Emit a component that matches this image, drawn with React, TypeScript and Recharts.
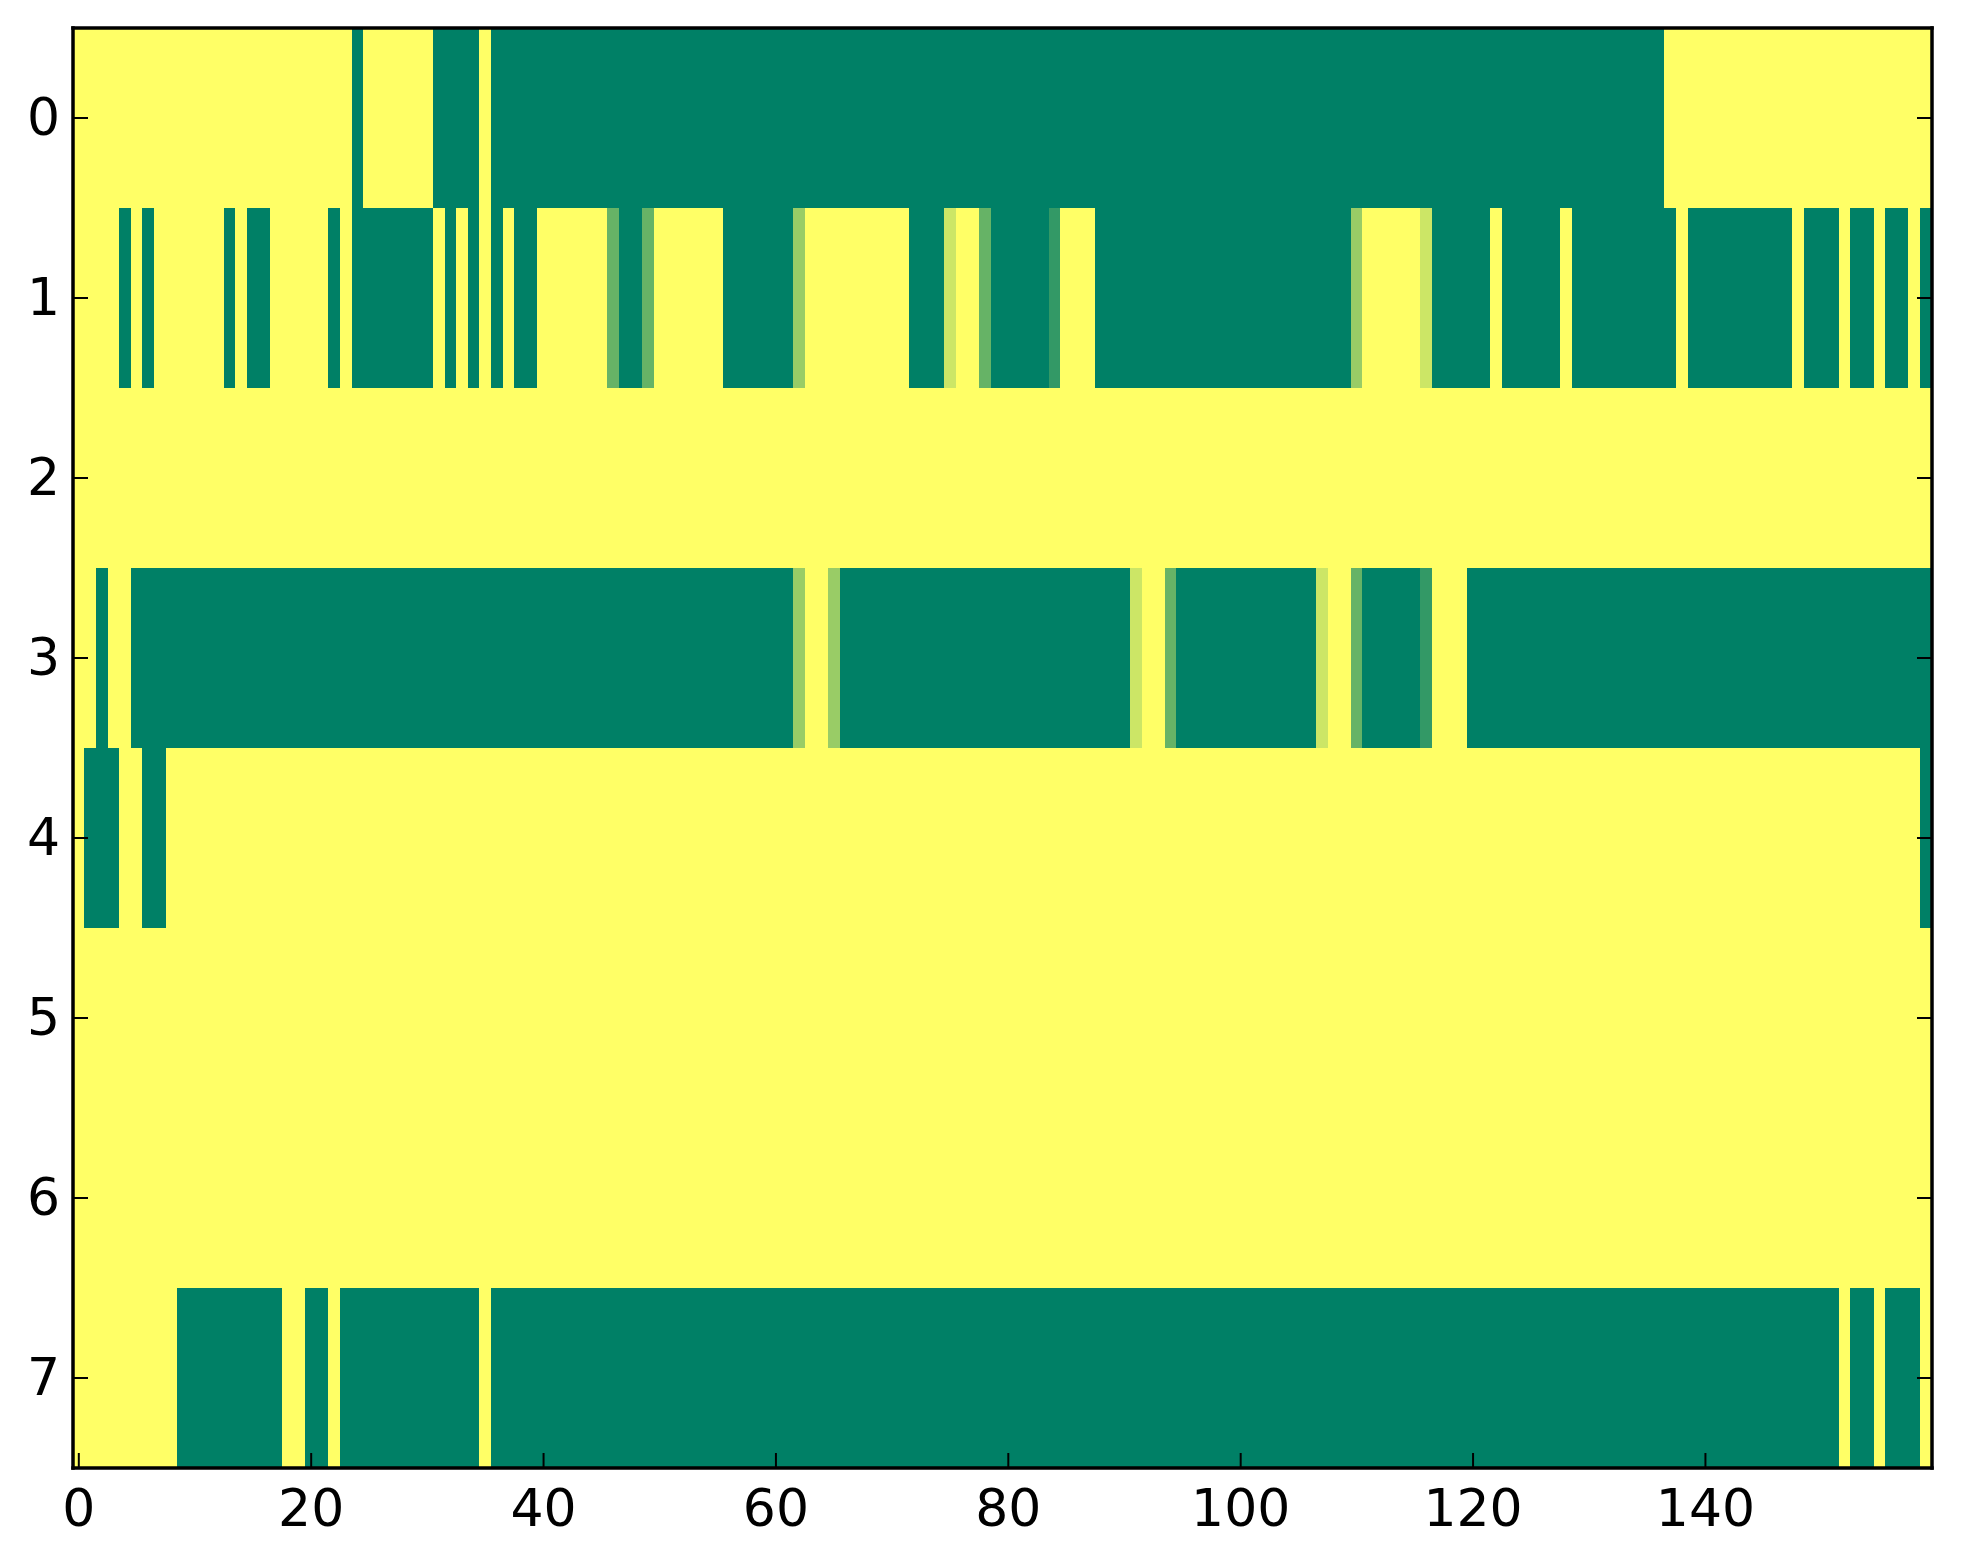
import React from 'react';
import { ScatterChart, Scatter, XAxis, YAxis } from 'recharts';

// ---- data (8 rows x 160 columns, values 0..1, summer colormap) ----
const ROW_TICKS = [0, 1, 2, 3, 4, 5, 6, 7];
const X_TICKS = [0, 20, 40, 60, 80, 100, 120, 140];

const row0 = [
  1, 1, 1, 1, 1, 1, 1, 1, 1, 1,
  1, 1, 1, 1, 1, 1, 1, 1, 1, 1,
  1, 1, 1, 1, 0, 1, 1, 1, 1, 1,
  1, 0, 0, 0, 0, 1, 0, 0, 0, 0,
  0, 0, 0, 0, 0, 0, 0, 0, 0, 0,
  0, 0, 0, 0, 0, 0, 0, 0, 0, 0,
  0, 0, 0, 0, 0, 0, 0, 0, 0, 0,
  0, 0, 0, 0, 0, 0, 0, 0, 0, 0,
  0, 0, 0, 0, 0, 0, 0, 0, 0, 0,
  0, 0, 0, 0, 0, 0, 0, 0, 0, 0,
  0, 0, 0, 0, 0, 0, 0, 0, 0, 0,
  0, 0, 0, 0, 0, 0, 0, 0, 0, 0,
  0, 0, 0, 0, 0, 0, 0, 0, 0, 0,
  0, 0, 0, 0, 0, 0, 0, 1, 1, 1,
  1, 1, 1, 1, 1, 1, 1, 1, 1, 1,
  1, 1, 1, 1, 1, 1, 1, 1, 1, 1,
];

const row1 = [
  1, 1, 1, 1, 0, 1, 0, 1, 1, 1,
  1, 1, 1, 0, 1, 0, 0, 1, 1, 1,
  1, 1, 0, 1, 0, 0, 0, 0, 0, 0,
  0, 1, 0, 1, 0, 1, 0, 1, 0, 0,
  1, 1, 1, 1, 1, 1, 0.4, 0, 0, 0.4,
  1, 1, 1, 1, 1, 1, 0, 0, 0, 0,
  0, 0, 0.6, 1, 1, 1, 1, 1, 1, 1,
  1, 1, 0, 0, 0, 0.8, 1, 1, 0.4, 0,
  0, 0, 0, 0, 0.2, 1, 1, 1, 0, 0,
  0, 0, 0, 0, 0, 0, 0, 0, 0, 0,
  0, 0, 0, 0, 0, 0, 0, 0, 0, 0,
  0.6, 1, 1, 1, 1, 1, 0.8, 0, 0, 0,
  0, 0, 1, 0, 0, 0, 0, 0, 1, 0,
  0, 0, 0, 0, 0, 0, 0, 0, 1, 0,
  0, 0, 0, 0, 0, 0, 0, 0, 1, 0,
  0, 0, 1, 0, 0, 1, 0, 0, 1, 0,
];

const row2 = [
  1, 1, 1, 1, 1, 1, 1, 1, 1, 1,
  1, 1, 1, 1, 1, 1, 1, 1, 1, 1,
  1, 1, 1, 1, 1, 1, 1, 1, 1, 1,
  1, 1, 1, 1, 1, 1, 1, 1, 1, 1,
  1, 1, 1, 1, 1, 1, 1, 1, 1, 1,
  1, 1, 1, 1, 1, 1, 1, 1, 1, 1,
  1, 1, 1, 1, 1, 1, 1, 1, 1, 1,
  1, 1, 1, 1, 1, 1, 1, 1, 1, 1,
  1, 1, 1, 1, 1, 1, 1, 1, 1, 1,
  1, 1, 1, 1, 1, 1, 1, 1, 1, 1,
  1, 1, 1, 1, 1, 1, 1, 1, 1, 1,
  1, 1, 1, 1, 1, 1, 1, 1, 1, 1,
  1, 1, 1, 1, 1, 1, 1, 1, 1, 1,
  1, 1, 1, 1, 1, 1, 1, 1, 1, 1,
  1, 1, 1, 1, 1, 1, 1, 1, 1, 1,
  1, 1, 1, 1, 1, 1, 1, 1, 1, 1,
];

const row3 = [
  1, 1, 0, 1, 1, 0, 0, 0, 0, 0,
  0, 0, 0, 0, 0, 0, 0, 0, 0, 0,
  0, 0, 0, 0, 0, 0, 0, 0, 0, 0,
  0, 0, 0, 0, 0, 0, 0, 0, 0, 0,
  0, 0, 0, 0, 0, 0, 0, 0, 0, 0,
  0, 0, 0, 0, 0, 0, 0, 0, 0, 0,
  0, 0, 0.6, 1, 1, 0.6, 0, 0, 0, 0,
  0, 0, 0, 0, 0, 0, 0, 0, 0, 0,
  0, 0, 0, 0, 0, 0, 0, 0, 0, 0,
  0, 0.8, 1, 1, 0.4, 0, 0, 0, 0, 0,
  0, 0, 0, 0, 0, 0, 0, 0.8, 1, 1,
  0.4, 0, 0, 0, 0, 0, 0.2, 1, 1, 1,
  0, 0, 0, 0, 0, 0, 0, 0, 0, 0,
  0, 0, 0, 0, 0, 0, 0, 0, 0, 0,
  0, 0, 0, 0, 0, 0, 0, 0, 0, 0,
  0, 0, 0, 0, 0, 0, 0, 0, 0, 0,
];

const row4 = [
  1, 0, 0, 0, 1, 1, 0, 0, 1, 1,
  1, 1, 1, 1, 1, 1, 1, 1, 1, 1,
  1, 1, 1, 1, 1, 1, 1, 1, 1, 1,
  1, 1, 1, 1, 1, 1, 1, 1, 1, 1,
  1, 1, 1, 1, 1, 1, 1, 1, 1, 1,
  1, 1, 1, 1, 1, 1, 1, 1, 1, 1,
  1, 1, 1, 1, 1, 1, 1, 1, 1, 1,
  1, 1, 1, 1, 1, 1, 1, 1, 1, 1,
  1, 1, 1, 1, 1, 1, 1, 1, 1, 1,
  1, 1, 1, 1, 1, 1, 1, 1, 1, 1,
  1, 1, 1, 1, 1, 1, 1, 1, 1, 1,
  1, 1, 1, 1, 1, 1, 1, 1, 1, 1,
  1, 1, 1, 1, 1, 1, 1, 1, 1, 1,
  1, 1, 1, 1, 1, 1, 1, 1, 1, 1,
  1, 1, 1, 1, 1, 1, 1, 1, 1, 1,
  1, 1, 1, 1, 1, 1, 1, 1, 1, 0,
];

const row5 = [
  1, 1, 1, 1, 1, 1, 1, 1, 1, 1,
  1, 1, 1, 1, 1, 1, 1, 1, 1, 1,
  1, 1, 1, 1, 1, 1, 1, 1, 1, 1,
  1, 1, 1, 1, 1, 1, 1, 1, 1, 1,
  1, 1, 1, 1, 1, 1, 1, 1, 1, 1,
  1, 1, 1, 1, 1, 1, 1, 1, 1, 1,
  1, 1, 1, 1, 1, 1, 1, 1, 1, 1,
  1, 1, 1, 1, 1, 1, 1, 1, 1, 1,
  1, 1, 1, 1, 1, 1, 1, 1, 1, 1,
  1, 1, 1, 1, 1, 1, 1, 1, 1, 1,
  1, 1, 1, 1, 1, 1, 1, 1, 1, 1,
  1, 1, 1, 1, 1, 1, 1, 1, 1, 1,
  1, 1, 1, 1, 1, 1, 1, 1, 1, 1,
  1, 1, 1, 1, 1, 1, 1, 1, 1, 1,
  1, 1, 1, 1, 1, 1, 1, 1, 1, 1,
  1, 1, 1, 1, 1, 1, 1, 1, 1, 1,
];

const row6 = [
  1, 1, 1, 1, 1, 1, 1, 1, 1, 1,
  1, 1, 1, 1, 1, 1, 1, 1, 1, 1,
  1, 1, 1, 1, 1, 1, 1, 1, 1, 1,
  1, 1, 1, 1, 1, 1, 1, 1, 1, 1,
  1, 1, 1, 1, 1, 1, 1, 1, 1, 1,
  1, 1, 1, 1, 1, 1, 1, 1, 1, 1,
  1, 1, 1, 1, 1, 1, 1, 1, 1, 1,
  1, 1, 1, 1, 1, 1, 1, 1, 1, 1,
  1, 1, 1, 1, 1, 1, 1, 1, 1, 1,
  1, 1, 1, 1, 1, 1, 1, 1, 1, 1,
  1, 1, 1, 1, 1, 1, 1, 1, 1, 1,
  1, 1, 1, 1, 1, 1, 1, 1, 1, 1,
  1, 1, 1, 1, 1, 1, 1, 1, 1, 1,
  1, 1, 1, 1, 1, 1, 1, 1, 1, 1,
  1, 1, 1, 1, 1, 1, 1, 1, 1, 1,
  1, 1, 1, 1, 1, 1, 1, 1, 1, 1,
];

const row7 = [
  1, 1, 1, 1, 1, 1, 1, 1, 1, 0,
  0, 0, 0, 0, 0, 0, 0, 0, 1, 1,
  0, 0, 1, 0, 0, 0, 0, 0, 0, 0,
  0, 0, 0, 0, 0, 1, 0, 0, 0, 0,
  0, 0, 0, 0, 0, 0, 0, 0, 0, 0,
  0, 0, 0, 0, 0, 0, 0, 0, 0, 0,
  0, 0, 0, 0, 0, 0, 0, 0, 0, 0,
  0, 0, 0, 0, 0, 0, 0, 0, 0, 0,
  0, 0, 0, 0, 0, 0, 0, 0, 0, 0,
  0, 0, 0, 0, 0, 0, 0, 0, 0, 0,
  0, 0, 0, 0, 0, 0, 0, 0, 0, 0,
  0, 0, 0, 0, 0, 0, 0, 0, 0, 0,
  0, 0, 0, 0, 0, 0, 0, 0, 0, 0,
  0, 0, 0, 0, 0, 0, 0, 0, 0, 0,
  0, 0, 0, 0, 0, 0, 0, 0, 0, 0,
  0, 0, 1, 0, 0, 1, 0, 0, 0, 1,
];

const ROWS = [row0, row1, row2, row3, row4, row5, row6, row7];
const N_COLS = row0.length;

// ---- layout ----
const W = 1963;
const H = 1564;
const Y_AXIS_W = 73;
const X_AXIS_H = 96;
const SIDE_AXIS = 1; // top / right axes need a non-zero size to be drawn
const MARGIN_AXES = { top: 28 - SIDE_AXIS, right: 31 - SIDE_AXIS, bottom: 0, left: 0 };
const MARGIN_CELLS = { top: 28, right: 31, bottom: X_AXIS_H, left: Y_AXIS_W };
const PLOT_W = W - MARGIN_CELLS.left - MARGIN_CELLS.right;
const PLOT_H = H - MARGIN_CELLS.top - MARGIN_CELLS.bottom;
const CELL_W = PLOT_W / N_COLS;
const CELL_H = PLOT_H / ROWS.length;

const TICK_LEN = 15;
const FONT = {
  fontFamily: '"DejaVu Sans", Verdana, sans-serif',
  fontSize: 52,
  fill: '#000',
};
const SPINE = { stroke: '#000', strokeWidth: 3.5, strokeLinecap: 'square' as const };

// matplotlib "summer" colormap
function summer(v: number) {
  const r = Math.round(255 * v);
  const g = Math.round(255 * (0.5 + 0.5 * v));
  return `rgb(${r},${g},102)`;
}

const cells = ROWS.flatMap((vals, r) => vals.map((v, c) => ({ col: c, row: r, v })));

const CellShape = (props: any) => {
  const { cx, cy, payload } = props;
  if (cx == null || cy == null) return null;
  return (
    <rect
      x={cx - CELL_W / 2 - 0.3}
      y={cy - CELL_H / 2 - 0.3}
      width={CELL_W + 0.6}
      height={CELL_H + 0.6}
      fill={summer(payload.v)}
      shapeRendering="crispEdges"
    />
  );
};

const BottomTick = (props: any) => {
  const { x, y, payload } = props;
  return (
    <g>
      <line x1={x} y1={y} x2={x} y2={y - TICK_LEN} stroke="#000" strokeWidth={2} />
      <text x={x} y={y + 58} textAnchor="middle" {...FONT}>
        {payload.value}
      </text>
    </g>
  );
};

const TopTick = (props: any) => {
  const { x, y } = props;
  return <line x1={x} y1={y} x2={x} y2={y + TICK_LEN} stroke="#000" strokeWidth={2} />;
};

const LeftTick = (props: any) => {
  const { x, y, payload } = props;
  return (
    <g>
      <line x1={x} y1={y} x2={x + TICK_LEN} y2={y} stroke="#000" strokeWidth={2} />
      <text x={x - 13} y={y + 17} textAnchor="end" {...FONT}>
        {payload.value}
      </text>
    </g>
  );
};

const RightTick = (props: any) => {
  const { x, y } = props;
  return <line x1={x} y1={y} x2={x - TICK_LEN} y2={y} stroke="#000" strokeWidth={2} />;
};

const X_DOMAIN: [number, number] = [-0.5, N_COLS - 0.5];
const Y_DOMAIN: [number, number] = [-0.5, ROWS.length - 0.5];

export default function App() {
  return (
    <div style={{ position: 'absolute', left: 0, top: 0, width: W, height: H, background: '#fff' }}>
      {/* image layer: the cells */}
      <div style={{ position: 'absolute', left: 0, top: 0 }}>
        <ScatterChart width={W} height={H} margin={MARGIN_CELLS}>
          <XAxis dataKey="col" type="number" domain={X_DOMAIN} allowDataOverflow hide />
          <YAxis dataKey="row" type="number" domain={Y_DOMAIN} reversed allowDataOverflow hide />
          <Scatter data={cells} dataKey="row" shape={<CellShape />} isAnimationActive={false} />
        </ScatterChart>
      </div>
      {/* frame layer: spines, inward ticks and labels drawn on top */}
      <div style={{ position: 'absolute', left: 0, top: 0, pointerEvents: 'none' }}>
        <ScatterChart width={W} height={H} margin={MARGIN_AXES}>
          <XAxis
            dataKey="col"
            type="number"
            domain={X_DOMAIN}
            allowDataOverflow
            ticks={X_TICKS}
            interval={0}
            tickSize={0}
            tickMargin={0}
            tickLine={false}
            tick={<BottomTick />}
            axisLine={SPINE}
            height={X_AXIS_H}
          />
          <XAxis
            xAxisId="top"
            orientation="top"
            type="number"
            domain={X_DOMAIN}
            allowDataOverflow
            ticks={X_TICKS}
            interval={0}
            tickSize={0}
            tickMargin={0}
            tickLine={false}
            tick={<TopTick />}
            axisLine={SPINE}
            height={SIDE_AXIS}
          />
          <YAxis
            dataKey="row"
            type="number"
            domain={Y_DOMAIN}
            reversed
            allowDataOverflow
            ticks={ROW_TICKS}
            interval={0}
            tickSize={0}
            tickMargin={0}
            tickLine={false}
            tick={<LeftTick />}
            axisLine={SPINE}
            width={Y_AXIS_W}
          />
          <YAxis
            yAxisId="right"
            orientation="right"
            type="number"
            domain={Y_DOMAIN}
            reversed
            allowDataOverflow
            ticks={ROW_TICKS}
            interval={0}
            tickSize={0}
            tickMargin={0}
            tickLine={false}
            tick={<RightTick />}
            axisLine={SPINE}
            width={SIDE_AXIS}
          />
        </ScatterChart>
      </div>
    </div>
  );
}
